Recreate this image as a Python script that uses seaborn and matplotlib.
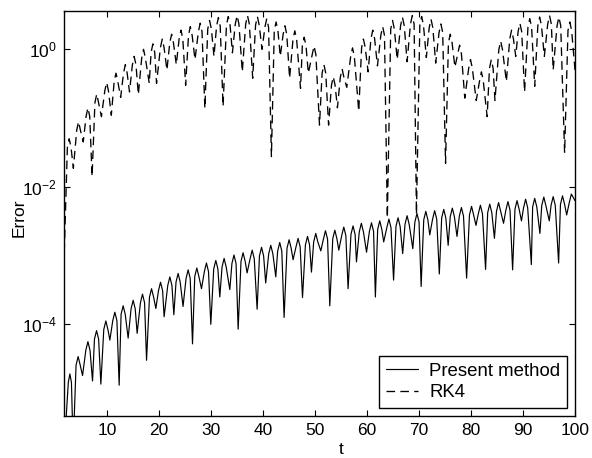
import numpy as np
import pandas as pd
import matplotlib
matplotlib.use("Agg")
import matplotlib.pyplot as plt
import seaborn as sns
from matplotlib.ticker import FixedLocator, NullLocator, LogFormatterSciNotation

# ================= data =================
# --- Present method: humps (peaks), hump shoulders, and dips (troughs) ---
present_peak_t = [2.83, 4.42, 6.3, 7.96, 9.75, 11.48, 13.08, 15.0, 16.8, 18.54, 20.27, 22.06,
                  23.65, 25.58, 27.25, 29.1, 30.9, 32.5, 34.4, 36.15, 37.9, 39.7, 41.48, 43.2,
                  45.0, 46.73, 48.54, 50.13, 52.0, 53.8, 55.52, 57.3, 58.9, 60.85, 62.44, 64.2,
                  65.96, 67.7, 69.6, 71.3, 73.0, 74.75, 76.4, 78.15, 80.1, 81.8, 83.6, 85.3,
                  87.1, 88.85, 90.5, 92.25, 94.0, 95.8, 97.6, 99.3]
present_peak_err = [1.9e-5, 3.4e-5, 5.6e-5, 8.1e-5, 1.12e-4, 1.5e-4, 1.86e-4, 2.24e-4, 2.75e-4,
                    3.3e-4, 4.1e-4, 4.9e-4, 5.5e-4, 6.2e-4, 6.6e-4, 7.8e-4, 8.5e-4, 9.1e-4,
                    1.02e-3, 1.1e-3, 1.2e-3, 1.32e-3, 1.41e-3, 1.55e-3, 1.7e-3, 1.78e-3, 1.9e-3,
                    2.1e-3, 2.3e-3, 2.34e-3, 2.6e-3, 2.7e-3, 2.95e-3, 3.0e-3, 3.2e-3, 3.4e-3,
                    3.55e-3, 3.8e-3, 4.1e-3, 4.4e-3, 4.5e-3, 4.7e-3, 4.9e-3, 5.0e-3, 5.2e-3,
                    5.4e-3, 5.6e-3, 5.9e-3, 6.1e-3, 6.3e-3, 6.6e-3, 6.8e-3, 7.1e-3, 7.2e-3,
                    7.4e-3, 7.85e-3]
present_shoulder_t = [2.53, 3.13, 4.02, 4.82, 5.9, 6.7, 7.56, 8.36, 9.35, 10.15, 11.08, 11.88,
                      12.68, 13.48, 14.6, 15.4, 16.4, 17.2, 18.14, 18.94, 19.87, 20.67, 21.66,
                      22.46, 23.25, 24.05, 25.18, 25.98, 26.85, 27.65, 28.7, 29.5, 30.5, 31.3,
                      32.1, 32.9, 34.0, 34.8, 35.75, 36.55, 37.5, 38.3, 39.3, 40.1, 41.08, 41.88,
                      42.8, 43.6, 44.6, 45.4, 46.33, 47.13, 48.14, 48.94, 49.73, 50.53, 51.6,
                      52.4, 53.4, 54.2, 55.12, 55.92, 56.9, 57.7, 58.5, 59.3, 60.45, 61.25, 62.04,
                      62.84, 63.8, 64.6, 65.56, 66.36, 67.3, 68.1, 69.2, 70.0, 70.9, 71.7, 72.6,
                      73.4, 74.35, 75.15, 76.0, 76.8, 77.75, 78.55, 79.7, 80.5, 81.4, 82.2, 83.2,
                      84.0, 84.9, 85.7, 86.7, 87.5, 88.45, 89.25, 90.1, 90.9, 91.85, 92.65, 93.6,
                      94.4, 95.4, 96.2, 97.2, 98.0, 98.9]
present_shoulder_err = [1.43e-5, 1.43e-5, 2.55e-5, 2.55e-5, 4.2e-5, 4.2e-5, 6.1e-5, 6.1e-5,
                        8.4e-5, 8.4e-5, 1.13e-4, 1.13e-4, 1.4e-4, 1.4e-4, 1.68e-4, 1.68e-4,
                        2.06e-4, 2.06e-4, 2.48e-4, 2.48e-4, 3.08e-4, 3.08e-4, 3.68e-4, 3.68e-4,
                        4.13e-4, 4.13e-4, 4.65e-4, 4.65e-4, 4.95e-4, 4.95e-4, 5.85e-4, 5.85e-4,
                        6.4e-4, 6.4e-4, 6.8e-4, 6.8e-4, 7.65e-4, 7.65e-4, 8.25e-4, 8.25e-4,
                        9.0e-4, 9.0e-4, 9.9e-4, 9.9e-4, 1.06e-3, 1.06e-3, 1.16e-3, 1.16e-3,
                        1.28e-3, 1.28e-3, 1.34e-3, 1.34e-3, 1.43e-3, 1.43e-3, 1.58e-3, 1.58e-3,
                        1.73e-3, 1.73e-3, 1.76e-3, 1.76e-3, 1.95e-3, 1.95e-3, 2.03e-3, 2.03e-3,
                        2.21e-3, 2.21e-3, 2.25e-3, 2.25e-3, 2.4e-3, 2.4e-3, 2.55e-3, 2.55e-3,
                        2.66e-3, 2.66e-3, 2.85e-3, 2.85e-3, 3.08e-3, 3.08e-3, 3.3e-3, 3.3e-3,
                        3.38e-3, 3.38e-3, 3.53e-3, 3.53e-3, 3.68e-3, 3.68e-3, 3.75e-3, 3.75e-3,
                        3.9e-3, 3.9e-3, 4.05e-3, 4.05e-3, 4.2e-3, 4.2e-3, 4.43e-3, 4.43e-3,
                        4.58e-3, 4.58e-3, 4.73e-3, 4.73e-3, 4.95e-3, 4.95e-3, 5.1e-3, 5.1e-3,
                        5.33e-3, 5.33e-3, 5.4e-3, 5.4e-3, 5.55e-3, 5.55e-3, 5.9e-3]
present_trough_t = [1.75, 3.46, 5.27, 7.19, 8.79, 10.52, 12.31, 14.04, 15.77, 17.58, 19.37, 20.96,
                    22.83, 24.6, 26.42, 28.15, 29.94, 31.67, 33.6, 35.2, 36.92, 38.85, 40.5,
                    42.44, 44.04, 45.77, 47.58, 49.3, 51.1, 52.83, 54.56, 56.35, 57.96, 59.9,
                    61.6, 63.2, 65.1, 66.85, 68.8, 70.4, 72.06, 73.9, 75.6, 77.3, 79.15, 80.95,
                    82.8, 84.5, 86.25, 88.0, 89.7, 91.6, 93.25, 95.05, 96.85, 98.4, 100.0]
present_trough_err = [1.6e-6, 1.6e-6, 1.8e-5, 1.5e-5, 1.35e-5, 5.9e-5, 1.3e-5, 6.3e-5, 7.4e-5,
                      3.0e-5, 1.7e-4, 1.29e-4, 1.38e-4, 1.82e-4, 5.2e-5, 3.3e-4, 1.0e-4, 2.5e-4,
                      3.2e-4, 8.5e-5, 5.6e-4, 1.66e-4, 4.0e-4, 4.9e-4, 1.26e-4, 8.7e-4, 2.45e-4,
                      5.75e-4, 1.17e-3, 1.86e-4, 1.2e-3, 3.3e-4, 8.1e-4, 1.12e-3, 2.5e-4, 1.58e-3,
                      4.4e-4, 1.07e-3, 1.26e-3, 3.55e-4, 2.0e-3, 5.4e-4, 1.41e-3, 1.9e-3, 4.7e-4,
                      2.75e-3, 6.3e-4, 1.78e-3, 2.95e-3, 6.2e-4, 3.2e-3, 7.4e-4, 2.1e-3, 3.2e-3,
                      7.8e-4, 3.9e-3, 6.3e-3]

# --- RK4: humps (peaks), hump shoulders, and dips (troughs) ---
rk4_peak_t = [2.7, 4.5, 6.3, 8.0, 9.9, 11.7, 13.5, 15.2, 17.0, 18.8, 20.6, 22.4, 24.2, 26.0,
              27.9, 29.7, 31.4, 33.3, 35.0, 37.0, 38.9, 40.7, 42.5, 44.2, 46.1, 47.9, 49.8,
              51.7, 53.5, 55.2, 57.2, 59.3, 61.1, 63.0, 64.9, 66.8, 68.7, 70.5, 72.3, 74.2,
              76.0, 77.8, 79.9, 82.0, 83.9, 85.7, 87.8, 89.4, 91.3, 93.2, 95.1, 96.9, 99.0]
rk4_peak_err = [0.050, 0.089, 0.141, 0.224, 0.33, 0.45, 0.60, 0.79, 1.0, 1.2, 1.41, 1.66, 1.9,
                2.14, 2.4, 2.63, 2.9, 3.0, 3.1, 3.1, 3.0, 2.8, 2.5, 2.2, 1.86, 1.5, 1.12, 0.60,
                0.40, 0.52, 1.05, 1.41, 1.9, 2.14, 2.63, 2.95, 3.1, 3.0, 2.75, 2.34, 1.66, 1.15,
                0.71, 0.47, 0.71, 1.32, 1.9, 2.4, 2.8, 2.95, 3.1, 2.95, 2.5]
rk4_shoulder_t = [2.35, 3.05, 4.15, 4.85, 5.95, 6.65, 7.65, 8.35, 9.55, 10.25, 11.35, 12.05,
                  13.15, 13.85, 14.85, 15.55, 16.65, 17.35, 18.45, 19.15, 20.25, 20.95, 22.05,
                  22.75, 23.85, 24.55, 25.65, 26.35, 27.55, 28.25, 29.35, 30.05, 31.05, 31.75,
                  32.95, 33.65, 34.65, 35.35, 36.65, 37.35, 38.55, 39.25, 40.35, 41.05, 42.15,
                  42.85, 43.85, 44.55, 45.75, 46.45, 47.55, 48.25, 49.45, 50.15, 51.35, 52.05,
                  53.15, 53.85, 54.85, 55.55, 56.85, 57.55, 58.95, 59.65, 60.75, 61.45, 62.65,
                  63.35, 64.55, 65.25, 66.45, 67.15, 68.35, 69.05, 70.15, 70.85, 71.95, 72.65,
                  73.85, 74.55, 75.65, 76.35, 77.45, 78.15, 79.55, 80.25, 81.65, 82.35, 83.55,
                  84.25, 85.35, 86.05, 87.45, 88.15, 89.05, 89.75, 90.95, 91.65, 92.85, 93.55,
                  94.75, 95.45, 96.55, 97.25, 98.65, 99.35]
rk4_shoulder_err = [0.0375, 0.0375, 0.067, 0.067, 0.106, 0.106, 0.168, 0.168, 0.25, 0.25, 0.34,
                    0.34, 0.45, 0.45, 0.59, 0.59, 0.75, 0.75, 0.9, 0.9, 1.06, 1.06, 1.25, 1.25,
                    1.43, 1.43, 1.6, 1.6, 1.8, 1.8, 1.97, 1.97, 2.18, 2.18, 2.25, 2.25, 2.33,
                    2.33, 2.33, 2.33, 2.25, 2.25, 2.1, 2.1, 1.88, 1.88, 1.65, 1.65, 1.4, 1.4,
                    1.13, 1.13, 0.84, 0.84, 0.45, 0.45, 0.30, 0.30, 0.39, 0.39, 0.79, 0.79, 1.06,
                    1.06, 1.43, 1.43, 1.6, 1.6, 1.97, 1.97, 2.21, 2.21, 2.33, 2.33, 2.25, 2.25,
                    2.06, 2.06, 1.76, 1.76, 1.25, 1.25, 0.86, 0.86, 0.53, 0.53, 0.35, 0.35, 0.53,
                    0.53, 0.99, 0.99, 1.43, 1.43, 1.8, 1.8, 2.1, 2.1, 2.21, 2.21, 2.33, 2.33,
                    2.21, 2.21, 1.88, 1.88]
rk4_trough_t = [1.75, 3.5, 5.4, 7.1, 8.9, 10.8, 12.6, 14.3, 16.0, 18.1, 19.5, 21.5, 23.3, 25.1,
                26.9, 28.8, 30.55, 32.3, 34.1, 36.0, 38.0, 39.8, 41.6, 43.3, 45.1, 47.2, 48.7,
                50.85, 52.6, 54.3, 56.1, 58.4, 60.2, 62.0, 63.9, 65.8, 67.7, 69.5, 71.4, 73.2,
                75.1, 76.9, 78.8, 81.0, 83.1, 84.6, 86.8, 88.6, 90.3, 92.25, 94.1, 95.8, 98.0,
                100.0]
rk4_trough_err = [1.12e-3, 0.0186, 0.045, 0.0141, 0.105, 0.11, 0.20, 0.24, 0.22, 0.32, 0.32,
                  0.50, 0.60, 0.30, 0.71, 0.138, 0.79, 0.148, 0.89, 0.47, 0.38, 1.0, 0.0275,
                  0.79, 0.38, 0.27, 0.45, 0.079, 0.079, 0.141, 0.28, 0.126, 0.47, 0.575,
                  0.00355, 0.71, 0.66, 0.004, 0.76, 0.63, 0.022, 0.55, 0.195, 0.18, 0.105, 0.18,
                  0.34, 0.79, 0.24, 0.29, 0.79, 0.50, 0.031, 0.50]

x_ticks = [10, 20, 30, 40, 50, 60, 70, 80, 90, 100]
y_ticks = [1e-4, 1e-2, 1e0]
series_names = ["Present method", "RK4"]


def series_frame(ts, vs, name):
    df = pd.DataFrame({"t": np.concatenate(ts), "err": np.concatenate(vs)})
    df = df.sort_values("t").reset_index(drop=True)
    df["method"] = name
    return df


df_p = series_frame([present_trough_t, present_shoulder_t, present_peak_t],
                    [present_trough_err, present_shoulder_err, present_peak_err], series_names[0])
df_r = series_frame([rk4_trough_t, rk4_shoulder_t, rk4_peak_t],
                    [rk4_trough_err, rk4_shoulder_err, rk4_peak_err], series_names[1])

# ================= style =================
sns.set_theme(style="white")
plt.rcParams["font.family"] = ["Liberation Sans", "DejaVu Sans"]
plt.rcParams["mathtext.fontset"] = "custom"
plt.rcParams["mathtext.rm"] = "Liberation Sans"
plt.rcParams["mathtext.it"] = "Liberation Sans:italic"
plt.rcParams["mathtext.bf"] = "Liberation Sans:bold"
plt.rcParams["axes.unicode_minus"] = False
plt.rcParams["text.color"] = "black"

fs = 12.5
leg_fs = 13.4
dash_pat = (6.5, 4.0)

fig = plt.figure(figsize=(5.92, 4.58), dpi=100)
ax = fig.add_axes([64 / 592, 1 - 415.7 / 458, (575 - 64) / 592, (415.7 - 11) / 458])

sns.lineplot(data=df_p, x="t", y="err", ax=ax, color="black", lw=0.85,
             label=series_names[0], sort=False)
sns.lineplot(data=df_r, x="t", y="err", ax=ax, color="black", lw=0.95,
             label=series_names[1], sort=False)
ax.lines[1].set_dashes(dash_pat)

ax.set_yscale("log")
ax.set_xlim(1.7, 100)
ax.set_ylim(4.69e-6, 3.61)
ax.xaxis.set_major_locator(FixedLocator(x_ticks))
ax.yaxis.set_major_locator(FixedLocator(y_ticks))
ax.yaxis.set_minor_locator(NullLocator())
ax.yaxis.set_major_formatter(LogFormatterSciNotation())

ax.tick_params(axis="both", which="major", direction="in", length=4, width=0.8,
               top=True, right=True, bottom=True, left=True, labelsize=fs, colors="black",
               pad=5)
for s in ax.spines.values():
    s.set_color("black")
    s.set_linewidth(1.0)

ax.set_xlabel("t", fontsize=fs, color="black")
ax.set_ylabel("Error", fontsize=fs, color="black")
ax.xaxis.set_label_coords((341 - 64) / 511, -0.066)
ax.yaxis.set_label_coords(-0.074, 0.49)

leg = ax.legend(loc="lower right", fontsize=leg_fs, frameon=True, fancybox=False, shadow=False,
                handlelength=1.7, handletextpad=0.63, borderpad=0.35, labelspacing=0.24,
                borderaxespad=0.43)
leg.get_frame().set_edgecolor("black")
leg.get_frame().set_linewidth(1.0)
leg.get_frame().set_facecolor("white")
leg.get_frame().set_alpha(1.0)
for txt in leg.get_texts():
    txt.set_color("black")
leg.legend_handles[1].set_dashes(dash_pat)

fig.savefig("out.png", dpi=100)
